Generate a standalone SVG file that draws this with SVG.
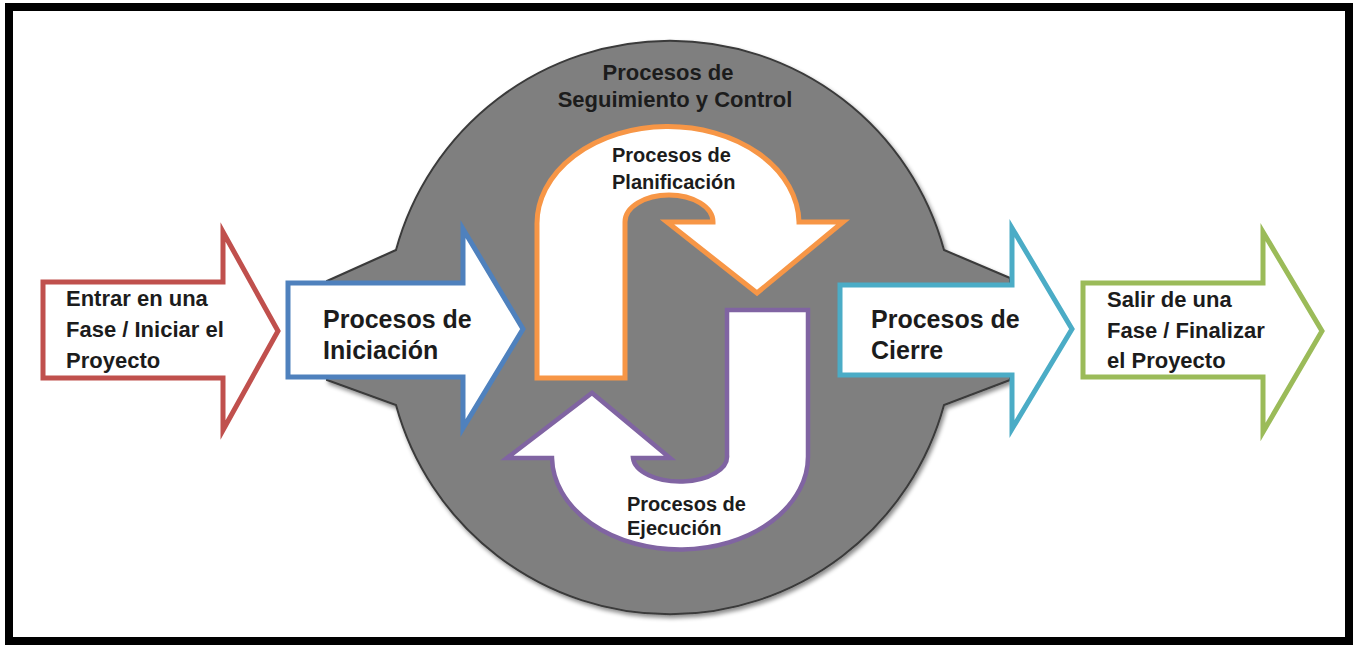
<svg xmlns="http://www.w3.org/2000/svg" width="1362" height="646" viewBox="0 0 1362 646">
  <defs>
    <filter id="shadow" x="-10%" y="-10%" width="120%" height="120%">
      <feDropShadow dx="2" dy="3" stdDeviation="2" flood-color="#000" flood-opacity="0.45"/>
    </filter>
  </defs>
  <style>
    .t { font-family: "Liberation Sans", Arial, sans-serif; font-weight: bold; fill: #1c1c1c; }
    .arrow { fill: #ffffff; stroke-width: 5; stroke-linejoin: miter; }
    .red { stroke: #c0504d; }
    .blue { stroke: #4f81bd; }
    .cyan { stroke: #4bacc6; }
    .green { stroke: #9bbb59; }
    .orange { stroke: #f79646; }
    .purple { stroke: #8064a2; stroke-width: 4.5; }
  </style>
  <rect x="0" y="0" width="1362" height="646" fill="#ffffff"/>
  <rect x="9" y="7" width="1340" height="634" fill="#ffffff" stroke="#000000" stroke-width="8"/>

  <g id="seguimiento-control">
    <path d="M396,250 L327,281 L327,380 L396,405 A284,284 0 0 0 944,405 L1010,380 L1010,278 L944,250 A284,284 0 0 0 396,250 Z" fill="#7f7f7f" stroke="#3a3a3a" stroke-width="2" filter="url(#shadow)"/>
    <text class="t" font-size="22" text-anchor="middle" x="668" y="80">Procesos de</text>
    <text class="t" font-size="22" text-anchor="middle" x="675" y="107">Seguimiento y Control</text>
  </g>

  <g id="connectors"></g>

  <g id="entrar">
    <path class="arrow red" d="M43,282 L223,282 L223,232 L278,331 L223,430 L223,378 L43,378 Z"/>
    <text class="t" font-size="22" x="66" y="306">Entrar en una</text>
    <text class="t" font-size="22" x="66" y="337">Fase / Iniciar el</text>
    <text class="t" font-size="22" x="66" y="368">Proyecto</text>
  </g>

  <g id="iniciacion">
    <path class="arrow blue" d="M288,283 L463,283 L463,229 L523,329 L463,428 L463,377 L288,377 Z"/>
    <text class="t" font-size="25" x="323" y="328">Procesos de</text>
    <text class="t" font-size="25" x="323" y="359">Iniciación</text>
  </g>

  <g id="planificacion">
    <path class="arrow orange" d="M537,378 L537,225 A131,97 0 0 1 799,222 L843,222 L757,293 L667,222 L713,222 A44,27 0 0 0 625,222 L625,378 Z"/>
    <text class="t" font-size="20" x="612" y="162">Procesos de</text>
    <text class="t" font-size="20" x="612" y="189">Planificación</text>
  </g>

  <g id="ejecucion">
    <path class="arrow purple" d="M727,310 L808,310 L808,455 A128,93 0 0 1 552,458 L507,458 L592,393 L670,458 L633,458 A47,25 0 0 0 727,455 Z"/>
    <text class="t" font-size="20" x="627" y="511">Procesos de</text>
    <text class="t" font-size="20" x="627" y="535">Ejecución</text>
  </g>

  <g id="cierre">
    <path class="arrow cyan" d="M840,285 L1012,285 L1012,228 L1072,329 L1012,429 L1012,375 L840,375 Z"/>
    <text class="t" font-size="25" x="871" y="328">Procesos de</text>
    <text class="t" font-size="25" x="871" y="359">Cierre</text>
  </g>

  <g id="salir">
    <path class="arrow green" d="M1083,283 L1263,283 L1263,232 L1322,331 L1263,432 L1263,377 L1083,377 Z"/>
    <text class="t" font-size="22" x="1107" y="307">Salir de una</text>
    <text class="t" font-size="22" x="1107" y="338">Fase / Finalizar</text>
    <text class="t" font-size="22" x="1107" y="368">el Proyecto</text>
  </g>
</svg>
